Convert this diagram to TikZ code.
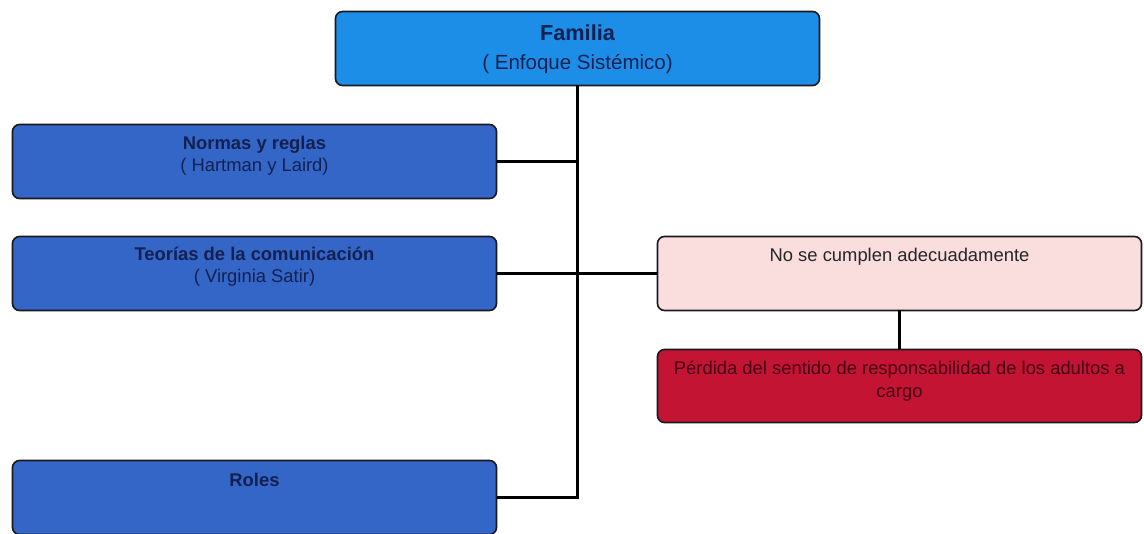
\documentclass[tikz,border=0pt]{standalone}
\usepackage{fontspec}
\setmainfont{Liberation Sans}
\definecolor{famblue}{RGB}{28,142,232}
\definecolor{midblue}{RGB}{52,102,200}
\definecolor{navytxt}{RGB}{20,32,80}
\definecolor{palepink}{RGB}{250,222,222}
\definecolor{crimson}{RGB}{196,20,52}
\definecolor{crimtxt}{RGB}{70,0,20}
\definecolor{edge}{RGB}{25,25,30}
\tikzset{
  boxbase/.style={draw=edge, line width=1.6pt, rounded corners=7pt, inner sep=0pt, outer sep=0pt},
  famstyle/.style={boxbase, fill=famblue, text=navytxt},
  leftstyle/.style={boxbase, fill=midblue, text=navytxt},
  pinkstyle/.style={boxbase, fill=palepink, text=black!85},
  redstyle/.style={boxbase, fill=crimson, text=crimtxt},
  conn/.style={draw=black, line width=3.8pt}
}
\begin{document}
\begin{tikzpicture}[x=1pt,y=-1pt]
\useasboundingbox (0,0) rectangle (1144,534);
\node[famstyle] (fam) at (577.5,48.5) {\parbox[c][74pt][t]{484pt}{\centering\fontsize{20.5}{29}\selectfont\vspace*{13pt}{\fontsize{21.7}{29}\selectfont\bfseries Familia}\\( Enfoque Sistémico)\par}};
\node[leftstyle] (norm) at (254.5,161.5) {\parbox[c][74pt][t]{484pt}{\centering\fontsize{18.4}{22}\selectfont\vspace*{12pt}\textbf{Normas y reglas}\\( Hartman y Laird)\par}};
\node[leftstyle] (teo) at (254.5,273.5) {\parbox[c][74pt][t]{484pt}{\centering\fontsize{18.4}{22}\selectfont\vspace*{11pt}\textbf{Teorías de la comunicación}\\( Virginia Satir)\par}};
\node[leftstyle] (roles) at (254.5,497.5) {\parbox[c][74pt][t]{484pt}{\centering\fontsize{18.4}{22}\selectfont\vspace*{13pt}\textbf{Roles}\par}};
\node[pinkstyle] (nose) at (899.5,273.5) {\parbox[c][74pt][t]{484pt}{\centering\fontsize{18.4}{22}\selectfont\vspace*{12pt}No se cumplen adecuadamente\par}};
\node[redstyle] (perd) at (899.5,386) {\parbox[c][73pt][t]{484pt}{\centering\fontsize{18.4}{23}\selectfont\vspace*{11pt}Pérdida del sentido de responsabilidad de los adultos a\\ cargo\par}};
\draw[conn] (fam.south) -- (roles.east -| fam.south) -- (roles.east);
\draw[conn] (norm.east) -- (norm.east -| fam.south);
\draw[conn] (teo.east) -- (nose.west);
\draw[conn] (nose.south) -- (perd.north);
\end{tikzpicture}
\end{document}
